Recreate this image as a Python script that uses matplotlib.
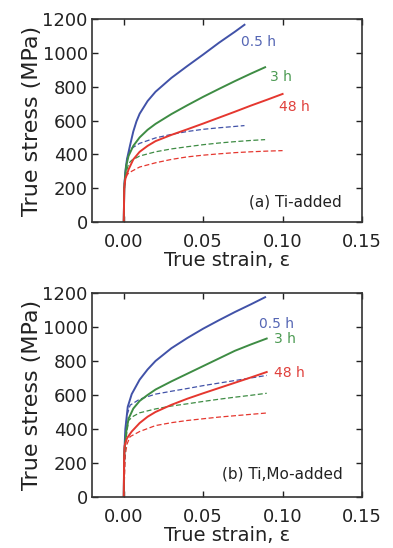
import matplotlib
matplotlib.use('Agg')
from matplotlib import pyplot as plt
from matplotlib.ticker import FormatStrFormatter

# ---- data: (strain, stress MPa) ----
# (a) Ti-added, solid curves
a_blue_x = [0, 0.0003, 0.001, 0.002, 0.004, 0.006, 0.008, 0.01, 0.015, 0.02, 0.03, 0.04, 0.05, 0.06, 0.07, 0.076]
a_blue_y = [0, 200, 300, 370, 455, 535, 595, 640, 715, 770, 852, 922, 990, 1060, 1125, 1166]
a_green_x = [0, 0.0003, 0.0015, 0.003, 0.006, 0.01, 0.015, 0.02, 0.03, 0.04, 0.05, 0.06, 0.07, 0.08, 0.089]
a_green_y = [0, 200, 330, 390, 450, 500, 545, 580, 638, 690, 740, 787, 833, 877, 915]
a_red_x = [0, 0.0003, 0.001, 0.003, 0.006, 0.01, 0.015, 0.02, 0.03, 0.04, 0.05, 0.06, 0.07, 0.08, 0.09, 0.1]
a_red_y = [0, 200, 255, 310, 370, 415, 450, 478, 515, 548, 582, 617, 652, 688, 722, 757]
# (a) dashed curves
a_blue_d_x = [0, 0.0005, 0.002, 0.004, 0.01, 0.02, 0.03, 0.04, 0.05, 0.06, 0.07, 0.076]
a_blue_d_y = [0, 250, 370, 430, 465, 497, 518, 535, 548, 557, 565, 570]
a_green_d_x = [0, 0.0005, 0.003, 0.005, 0.01, 0.02, 0.03, 0.04, 0.05, 0.06, 0.07, 0.08, 0.089]
a_green_d_y = [0, 250, 345, 365, 390, 415, 432, 445, 457, 467, 475, 482, 487]
a_red_d_x = [0, 0.0005, 0.002, 0.005, 0.01, 0.02, 0.03, 0.04, 0.05, 0.06, 0.07, 0.08, 0.09, 0.1]
a_red_d_y = [0, 230, 280, 300, 325, 350, 370, 385, 395, 403, 410, 415, 419, 422]

# (b) Ti,Mo-added, solid curves
b_blue_x = [0, 0.0003, 0.001, 0.0025, 0.005, 0.01, 0.015, 0.02, 0.03, 0.04, 0.05, 0.06, 0.07, 0.08, 0.089]
b_blue_y = [0, 250, 400, 530, 605, 690, 750, 800, 875, 935, 990, 1040, 1088, 1133, 1175]
b_green_x = [0, 0.0003, 0.0015, 0.003, 0.006, 0.01, 0.015, 0.02, 0.03, 0.04, 0.05, 0.06, 0.07, 0.08, 0.09]
b_green_y = [0, 250, 380, 460, 520, 565, 600, 632, 680, 725, 770, 815, 860, 897, 932]
b_red_x = [0, 0.0002, 0.0005, 0.002, 0.005, 0.01, 0.015, 0.02, 0.03, 0.04, 0.05, 0.06, 0.07, 0.08, 0.09]
b_red_y = [0, 220, 300, 345, 385, 435, 472, 500, 542, 578, 610, 641, 672, 703, 735]
# (b) dashed curves
b_blue_d_x = [0, 0.0005, 0.002, 0.004, 0.01, 0.02, 0.03, 0.04, 0.05, 0.06, 0.07, 0.08, 0.09]
b_blue_d_y = [0, 300, 480, 540, 575, 605, 622, 638, 655, 670, 685, 700, 715]
b_green_d_x = [0, 0.0005, 0.003, 0.006, 0.01, 0.02, 0.03, 0.04, 0.05, 0.06, 0.07, 0.08, 0.09]
b_green_d_y = [0, 280, 450, 475, 495, 518, 535, 548, 562, 575, 587, 598, 610]
b_red_d_x = [0, 0.001, 0.002, 0.004, 0.01, 0.02, 0.03, 0.04, 0.05, 0.06, 0.07, 0.08, 0.09]
b_red_d_y = [0, 250, 310, 355, 385, 420, 437, 450, 460, 470, 478, 486, 494]

labels = ['0.5 h', '3 h', '48 h']
a_label_pos = [(0.085, 1065), (0.099, 860), (0.1075, 679)]
b_label_pos = [(0.096, 1020), (0.1017, 928), (0.104, 730)]

x_ticks = [0.0, 0.05, 0.10, 0.15]
y_ticks = [0, 200, 400, 600, 800, 1000, 1200]

c_blue = '#4152a8'
c_green = '#3e8c44'
c_red = '#e5372f'
t_blue = '#5566b4'
t_green = '#4b9a52'
t_red = '#e0403c'

plt.rcParams['font.family'] = 'DejaVu Sans'

fig = plt.figure(figsize=(3.93, 5.48), dpi=100)
ax1 = fig.add_axes([0.2341, 0.5949, 0.687, 0.3704])
ax2 = fig.add_axes([0.2341, 0.0931, 0.687, 0.3723])


def draw_panel(ax, solid, dashed, lpos, tag, tagpos):
    for (x, y), c in zip(dashed, [c_blue, c_green, c_red]):
        ax.plot(x, y, color=c, lw=0.9, linestyle=(0, (4, 2)))
    for (x, y), c in zip(solid, [c_blue, c_green, c_red]):
        ax.plot(x, y, color=c, lw=1.4)
    for lab, (px, py), c in zip(labels, lpos, [t_blue, t_green, t_red]):
        ax.text(px, py, lab, color=c, fontsize=10, ha='center', va='center')
    ax.text(tagpos[0], tagpos[1], tag, fontsize=11, ha='center', va='center',
            color='#222222')
    ax.set_xlim(-0.02, 0.15)
    ax.set_ylim(0, 1200)
    ax.set_xticks(x_ticks)
    ax.set_yticks(y_ticks)
    ax.xaxis.set_major_formatter(FormatStrFormatter('%.2f'))
    ax.tick_params(direction='in', top=True, right=True, length=4, width=1,
                   labelsize=13, colors='#222222')
    ax.tick_params(axis='x', pad=8)
    ax.tick_params(axis='y', pad=3)
    for s in ax.spines.values():
        s.set_linewidth(1.2)
        s.set_color('#333333')
    ax.set_xlabel('True strain, ε', fontsize=14, labelpad=0, color='#222222')
    ax.set_ylabel('True stress (MPa)', fontsize=16, labelpad=0, color='#222222')


draw_panel(ax1,
           [(a_blue_x, a_blue_y), (a_green_x, a_green_y), (a_red_x, a_red_y)],
           [(a_blue_d_x, a_blue_d_y), (a_green_d_x, a_green_d_y), (a_red_d_x, a_red_d_y)],
           a_label_pos, '(a) Ti-added', (0.108, 120))
draw_panel(ax2,
           [(b_blue_x, b_blue_y), (b_green_x, b_green_y), (b_red_x, b_red_y)],
           [(b_blue_d_x, b_blue_d_y), (b_green_d_x, b_green_d_y), (b_red_d_x, b_red_d_y)],
           b_label_pos, '(b) Ti,Mo-added', (0.100, 138))

fig.savefig('out.png', dpi=100)
